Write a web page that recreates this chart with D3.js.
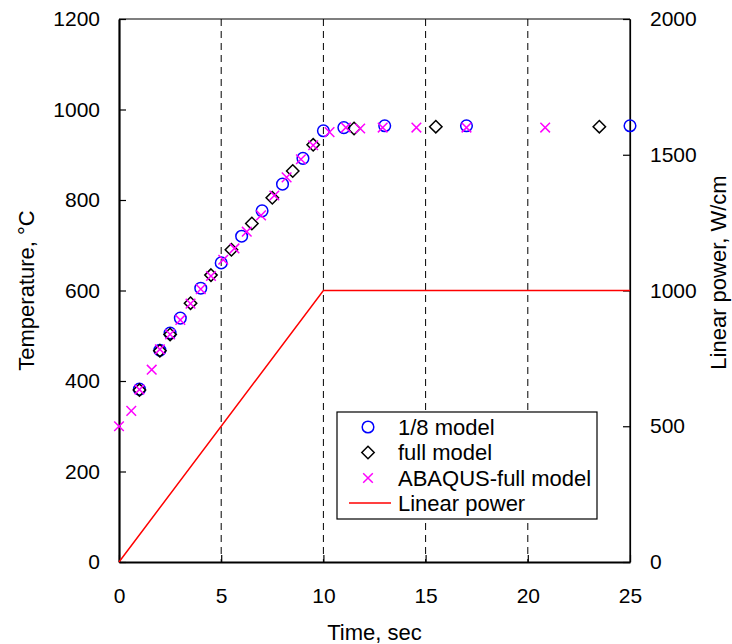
<!DOCTYPE html>
<html>
<head>
<meta charset="utf-8">
<script src="https://cdn.jsdelivr.net/npm/d3@7"></script>
<style>
  html, body { margin: 0; padding: 0; background: #fff; }
  svg { display: block; }
  text { font-family: "Liberation Sans", Arial, sans-serif; fill: #000; }
</style>
</head>
<body>
<svg id="chart" width="732" height="644"></svg>
<script>
// Temperature history of the 1/8 model (time in s, temperature in °C)
const eighthTime = [1, 2, 2.5, 3, 4, 5, 6, 7, 8, 9, 10, 11, 13, 17, 25];
const eighthTemp = [382, 468, 506, 539, 605, 661, 720, 776, 835, 892, 953, 960, 964, 964, 964];

// Temperature history of the full model
const fullTime = [1, 2, 2.5, 3.5, 4.5, 5.5, 6.5, 7.5, 8.5, 9.5, 11.5, 15.5, 23.5];
const fullTemp = [380, 467, 503, 572, 634, 690, 748, 805, 864, 922, 958, 962, 962];

// ABAQUS full-model result
const abaqusTime = [0, 0.6, 1.0, 1.6, 2.0, 2.5, 3.0, 3.5, 4.0, 4.5, 5.1, 5.65, 6.25, 6.95, 7.6, 8.2, 8.9, 9.5, 10.3, 11.1, 11.8, 12.9, 14.55, 17.0, 20.85];
const abaqusTemp = [300, 334, 381, 425, 470, 503, 535, 571, 603, 632, 668, 693, 730, 766, 810, 850, 890, 921, 950, 960, 958, 960, 960, 960, 960];

// Linear power ramp (W/cm)
const powerTime = [0, 10, 25];
const powerValue = [0, 1000, 1000];

// Axis ticks and labels
const timeTicks = [0, 5, 10, 15, 20, 25];
const tempTicks = [0, 200, 400, 600, 800, 1000, 1200];
const powerTicks = [0, 500, 1000, 1500, 2000];
const gridTimes = [5, 10, 15, 20];
const legendLabels = ["1/8 model", "full model", "ABAQUS-full model", "Linear power"];

const margin = { left: 119, right: 102, top: 19, bottom: 82 };
const W = 732, H = 644;
const x0 = margin.left, x1 = W - margin.right;
const y0 = H - margin.bottom, y1 = margin.top;

const x = d3.scaleLinear().domain([0, 25]).range([x0, x1]);
const yT = d3.scaleLinear().domain([0, 1200]).range([y0, y1]);
const yP = d3.scaleLinear().domain([0, 2000]).range([y0, y1]);

const svg = d3.select("#chart");
const fs = 21;
const fmt = d3.format("d");

// dashed vertical reference lines
svg.append("g").selectAll("line").data(gridTimes).join("line")
  .attr("x1", d => x(d)).attr("x2", d => x(d))
  .attr("y1", y1).attr("y2", y0)
  .attr("stroke", "#000").attr("stroke-width", 1)
  .attr("stroke-dasharray", "7,5");

// frame: thin top/right, heavier left/bottom
svg.append("line").attr("x1", x0).attr("x2", x1).attr("y1", y1).attr("y2", y1)
  .attr("stroke", "#000").attr("stroke-width", 1.2);
svg.append("line").attr("x1", x1).attr("x2", x1).attr("y1", y1).attr("y2", y0)
  .attr("stroke", "#000").attr("stroke-width", 1.2);

// bottom axis (ticks pointing inward)
const xAxis = d3.axisBottom(x).tickValues(timeTicks).tickFormat(fmt)
  .tickSizeInner(-7).tickSizeOuter(0).tickPadding(26);
const gx = svg.append("g").attr("transform", `translate(0,${y0})`).call(xAxis);
gx.select(".domain").attr("stroke-width", 2.2);
gx.selectAll(".tick line").attr("stroke-width", 1.2);
gx.selectAll("text").attr("font-size", fs).attr("fill", "#000");

// left axis: temperature
const yAxisL = d3.axisLeft(yT).tickValues(tempTicks).tickFormat(fmt)
  .tickSizeInner(-7).tickSizeOuter(0).tickPadding(19);
const gyl = svg.append("g").attr("transform", `translate(${x0},0)`).call(yAxisL);
gyl.select(".domain").attr("stroke-width", 2.2);
gyl.selectAll(".tick line").attr("stroke-width", 1.2);
gyl.selectAll("text").attr("font-size", fs).attr("fill", "#000");

// right axis: linear power
const yAxisR = d3.axisRight(yP).tickValues(powerTicks).tickFormat(fmt)
  .tickSizeInner(-7).tickSizeOuter(0).tickPadding(20);
const gyr = svg.append("g").attr("transform", `translate(${x1},0)`).call(yAxisR);
gyr.select(".domain").attr("stroke-width", 1.2);
gyr.selectAll(".tick line").attr("stroke-width", 1.2);
gyr.selectAll("text").attr("font-size", fs).attr("fill", "#000");

// axis titles
svg.append("text").attr("x", (x0 + x1) / 2).attr("y", 640)
  .attr("text-anchor", "middle").attr("font-size", 22).text("Time, sec");
svg.append("text").attr("transform", `translate(34,${(y0 + y1) / 2}) rotate(-90)`)
  .attr("text-anchor", "middle").attr("font-size", 22).text("Temperature, °C");
svg.append("text").attr("transform", `translate(726,${(y0 + y1) / 2 - 18}) rotate(-90)`)
  .attr("text-anchor", "middle").attr("font-size", 22).text("Linear power, W/cm");

// power line on the right scale
const powerPts = powerTime.map((t, i) => [t, powerValue[i]]);
svg.append("path").datum(powerPts)
  .attr("d", d3.line().x(d => x(d[0])).y(d => yP(d[1])))
  .attr("fill", "none").attr("stroke", "#ff0000").attr("stroke-width", 1.5);

// marker shapes
const circlePath = r => `M${r},0A${r},${r} 0 1,1 ${-r},0A${r},${r} 0 1,1 ${r},0Z`;
const diamondPath = r => `M0,${-r}L${r},0L0,${r}L${-r},0Z`;
const crossPath = r => `M${-r},${-r}L${r},${r}M${-r},${r}L${r},${-r}`;

function drawMarkers(times, temps, shape, color) {
  const pts = times.map((t, i) => [t, temps[i]]);
  svg.append("g").selectAll("path").data(pts).join("path")
    .attr("transform", d => `translate(${x(d[0])},${yT(d[1])})`)
    .attr("d", shape)
    .attr("fill", "none").attr("stroke", color).attr("stroke-width", 1.5);
}
drawMarkers(eighthTime, eighthTemp, circlePath(5.8), "#0000ff");
drawMarkers(fullTime, fullTemp, diamondPath(6.2), "#000000");
drawMarkers(abaqusTime, abaqusTemp, crossPath(4.8), "#ff00ff");

// legend
const lg = svg.append("g");
lg.append("rect").attr("x", 337).attr("y", 412).attr("width", 260).attr("height", 107)
  .attr("fill", "#fff").attr("stroke", "#000").attr("stroke-width", 1.2);
const rowY = [427, 452.5, 478, 503];
const mx = 368;
lg.append("path").attr("transform", `translate(${mx},${rowY[0]})`).attr("d", circlePath(5.8))
  .attr("fill", "none").attr("stroke", "#0000ff").attr("stroke-width", 1.5);
lg.append("path").attr("transform", `translate(${mx},${rowY[1]})`).attr("d", diamondPath(6.2))
  .attr("fill", "none").attr("stroke", "#000").attr("stroke-width", 1.5);
lg.append("path").attr("transform", `translate(${mx},${rowY[2]})`).attr("d", crossPath(4.8))
  .attr("fill", "none").attr("stroke", "#ff00ff").attr("stroke-width", 1.5);
lg.append("line").attr("x1", 349).attr("x2", 391).attr("y1", rowY[3]).attr("y2", rowY[3])
  .attr("stroke", "#ff0000").attr("stroke-width", 1.5);
lg.selectAll("text.lbl").data(legendLabels).join("text").attr("class", "lbl")
  .attr("x", 398).attr("y", (d, i) => rowY[i]).attr("dy", "0.36em")
  .attr("font-size", 22).text(d => d);
</script>
</body>
</html>
